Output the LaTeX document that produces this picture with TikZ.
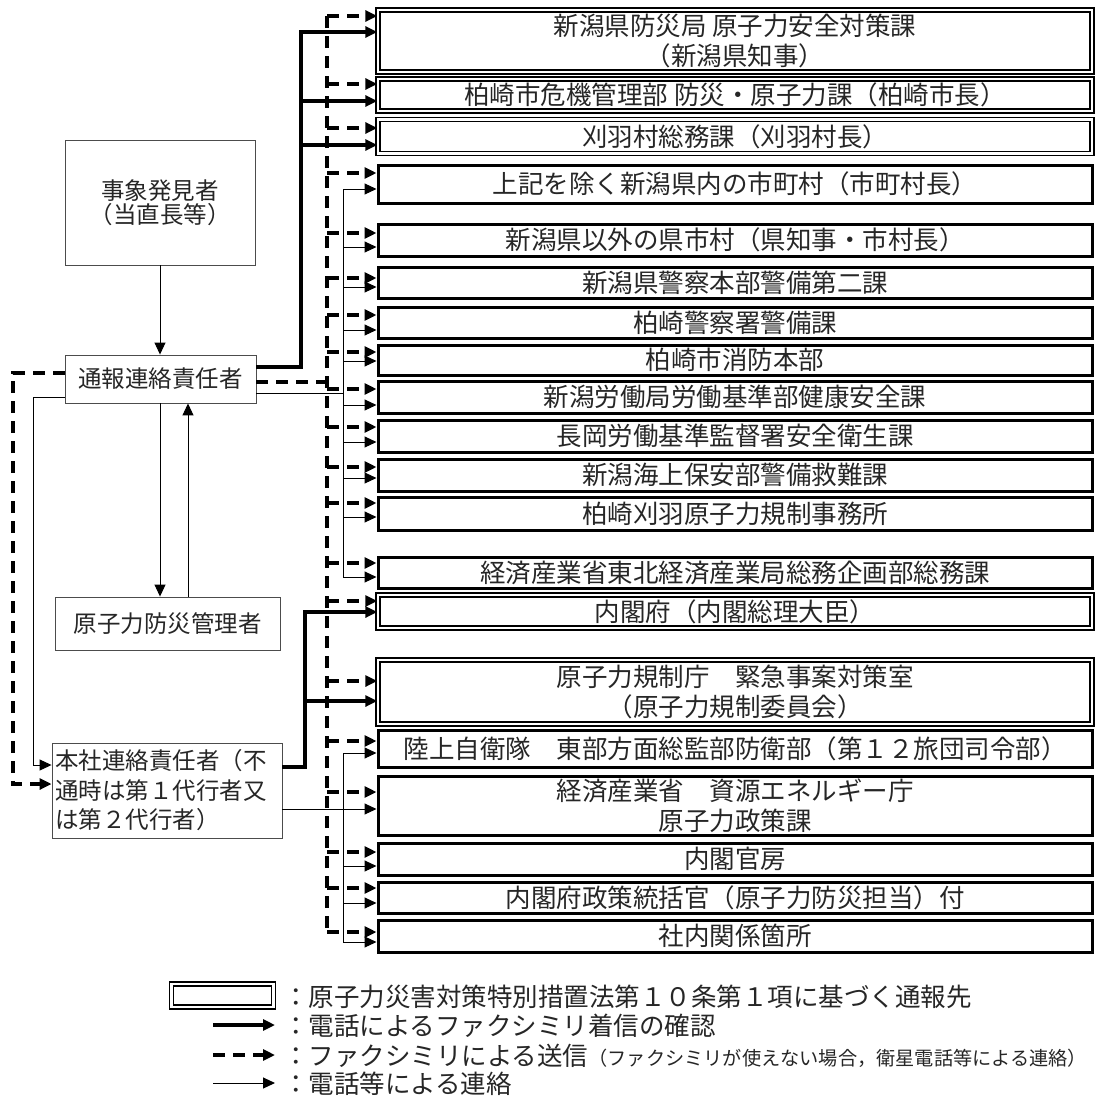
\documentclass[tikz,border=0pt]{standalone}
\usepackage{fontspec}
\setmainfont{Noto Sans CJK JP}
\usetikzlibrary{arrows.meta}
\begin{document}
\begin{tikzpicture}[x=1pt,y=-1pt,
  every node/.style={font=\fontsize{25.5}{30}\selectfont, text=black!85, inner sep=0pt},
  sbox/.style={draw=black, line width=3pt, minimum width=714pt},
  dbox/.style={draw=black, line width=1.4pt, double=white, double distance=2.4pt, minimum width=714pt},
  lbox/.style={draw=black!70, line width=0.9pt, font=\fontsize{23.5}{29.5}\selectfont},
  tip/.style={-{Triangle[length=12pt,width=11pt]}},
  thk/.style={line width=4.8pt},
  dsh/.style={line width=3.2pt, dash pattern=on 12pt off 8pt},
  thn/.style={line width=1pt},
]
\fill[white] (0,0) rectangle (1100,1100);
\useasboundingbox (0,0) rectangle (1100,1100);

% right boxes
\node[dbox, minimum height=62pt, align=center] (b1) at (735,41) {新潟県防災局 原子力安全対策課\\（新潟県知事）};
\node[dbox, minimum height=32pt] (b2) at (735,95) {柏崎市危機管理部 防災・原子力課（柏崎市長）};
\node[dbox, minimum height=34pt] (b3) at (735,136.5) {刈羽村総務課（刈羽村長）};
\node[sbox, minimum height=38pt] (b4) at (735,184) {上記を除く新潟県内の市町村（市町村長）};
\node[sbox, minimum height=32pt] (b5) at (735,240) {新潟県以外の県市村（県知事・市村長）};
\node[sbox, minimum height=31pt] (b6) at (735,282.5) {新潟県警察本部警備第二課};
\node[sbox, minimum height=31pt] (b7) at (735,322.5) {柏崎警察署警備課};
\node[sbox, minimum height=30pt] (b8) at (735,360) {柏崎市消防本部};
\node[sbox, minimum height=32pt] (b9) at (735,397) {新潟労働局労働基準部健康安全課};
\node[sbox, minimum height=32pt] (b10) at (735,436) {長岡労働基準監督署安全衛生課};
\node[sbox, minimum height=32pt] (b11) at (735,475) {新潟海上保安部警備救難課};
\node[sbox, minimum height=33pt] (b12) at (735,513.5) {柏崎刈羽原子力規制事務所};
\node[sbox, minimum height=31pt] (b13) at (735,572.5) {経済産業省東北経済産業局総務企画部総務課};
\node[dbox, minimum height=33pt] (b14) at (735,611.5) {内閣府（内閣総理大臣）};
\node[dbox, minimum height=64pt, align=center] (b15) at (735,692) {原子力規制庁　緊急事案対策室\\（原子力規制委員会）};
\node[sbox, minimum height=37pt] (b16) at (735,748.5) {陸上自衛隊　東部方面総監部防衛部（第１２旅団司令部）};
\node[sbox, minimum height=59pt, align=center] (b17) at (735,805.5) {経済産業省　資源エネルギー庁\\原子力政策課};
\node[sbox, minimum height=32pt] (b18) at (735,859) {内閣官房};
\node[sbox, minimum height=31pt] (b19) at (735,897.5) {内閣府政策統括官（原子力防災担当）付};
\node[sbox, minimum height=32pt] (b20) at (735,936) {社内関係箇所};

% left boxes
\node[lbox, minimum width=190pt, minimum height=125pt, align=center, font=\fontsize{23.5}{24}\selectfont] (n1) at (160,202.5) {事象発見者\\（当直長等）};
\node[lbox, minimum width=191pt, minimum height=48pt] (n2) at (160.5,379) {通報連絡責任者};
\node[lbox, minimum width=225pt, minimum height=53pt] (n3) at (167.5,623.5) {原子力防災管理者};
\node[lbox, minimum width=230pt, minimum height=95pt, align=left, text width=224pt] (n4) at (167,790.5) {本社連絡責任者（不\\通時は第１代行者又\\は第２代行者）};

% left connectors
\draw[thn,tip] (n1.south) -- (n1.south |- n2.north);
\draw[thn,tip] (n2.south -| 160,0) -- (n3.north -| 160,0);
\draw[thn,tip] (n3.north -| 188,0) -- (n2.south -| 188,0);
\draw[thn,tip] (n2.west |- 0,397) -| (33,765) -- (n4.west |- 0,765);
\draw[dsh,tip] (n2.west |- 0,373) -| (13,784) -- (n4.west |- 0,784);

% thick (upper)
\draw[thk,tip] (n2.east |- 0,367) -| (301,32) -- (b1.west |- 0,32);
\draw[thk,tip] (301,101) -- (b2.west |- 0,101);
\draw[thk,tip] (301,145) -- (b3.west |- 0,145);

% dashed trunk
\draw[dsh] (n2.east |- 0,382) -- (327,382);
\draw[dsh] (327,16) -- (327,932);
\foreach \yy/\bb in {16/b1,84/b2,128/b3,173/b4,233/b5,278/b6,315/b7,352/b8,389/b9,427/b10,467/b11,503/b12,563/b13,601/b14,681/b15,741/b16,792/b17,852/b18,888/b19,932/b20}
  \draw[dsh,tip] (327,\yy) -- (\bb.west |- 0,\yy);

% thin (upper)
\draw[thn] (n2.east |- 0,393) -- (343,393);
\draw[thn] (343,189) -- (343,577);
\foreach \yy/\bb in {189/b4,247/b5,287/b6,330/b7,361/b8,405/b9,442/b10,478/b11,517/b12,577/b13}
  \draw[thn,tip] (343,\yy) -- (\bb.west |- 0,\yy);

% thick (lower)
\draw[thk,tip] (n4.east |- 0,767) -| (305,612) -- (b14.west |- 0,612);
\draw[thk,tip] (305,701) -- (b15.west |- 0,701);

% thin (lower)
\draw[thn,tip] (n4.east |- 0,809) -- (b17.west |- 0,809);
\draw[thn] (343,753) -- (343,942);
\foreach \yy/\bb in {753/b16,866/b18,903/b19,942/b20}
  \draw[thn,tip] (343,\yy) -- (\bb.west |- 0,\yy);

% legend
\node[dbox, minimum width=102pt, minimum height=23pt] (lg0) at (222.5,995.5) {};
\node[anchor=west] (lt1) at (283,997) {：原子力災害対策特別措置法第１０条第１項に基づく通報先};
\coordinate (la1) at (213,1025);
\coordinate (lb1) at (275,1025);
\draw[thk,tip] (la1) -- (lb1);
\node[anchor=west] (lt2) at (283,1026) {：電話によるファクシミリ着信の確認};
\coordinate (la2) at (213,1055);
\coordinate (lb2) at (275,1055);
\draw[dsh,tip] (la2) -- (lb2);
\node[anchor=west] (lt3) at (283,1056) {：ファクシミリによる送信{\fontsize{19.2}{24}\selectfont（ファクシミリが使えない場合，衛星電話等による連絡）}};
\coordinate (la3) at (213,1083);
\coordinate (lb3) at (275,1083);
\draw[thn,tip] (la3) -- (lb3);
\node[anchor=west] (lt4) at (283,1084) {：電話等による連絡};
\end{tikzpicture}
\end{document}
